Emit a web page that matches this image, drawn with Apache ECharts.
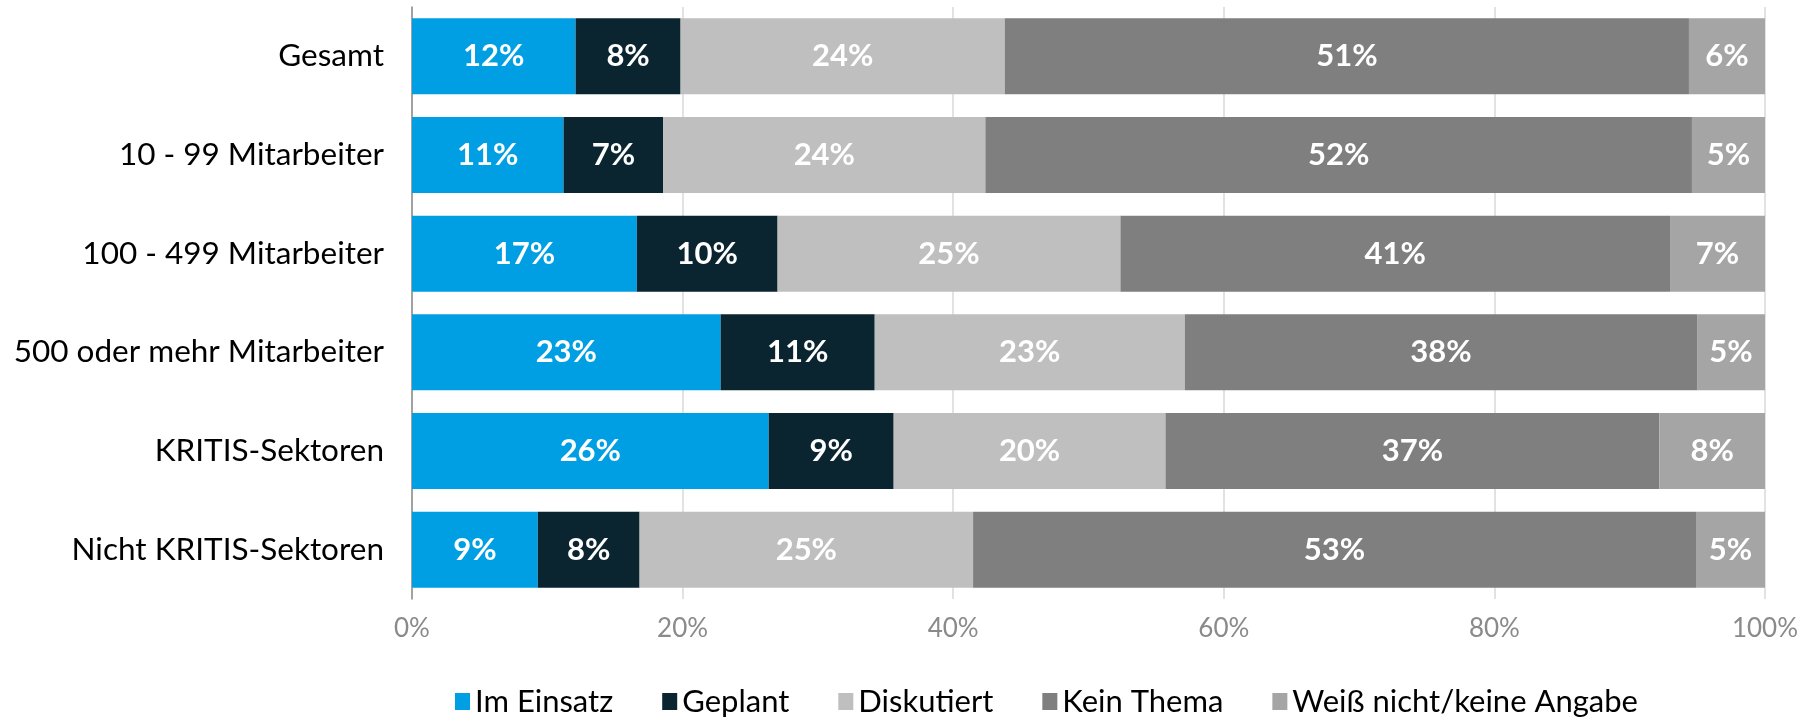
<!DOCTYPE html>
<html>
<head>
<meta charset="utf-8">
<script src="https://cdn.jsdelivr.net/npm/echarts@6/dist/echarts.min.js"></script>
<style>
html, body { margin: 0; padding: 0; background: #fff; }
#chart { width: 1817px; height: 718px; }
</style>
</head>
<body>
<div id="chart"></div>
<script>
// Kategorien (von oben nach unten)
var categories = ['Gesamt', '10 - 99 Mitarbeiter', '100 - 499 Mitarbeiter', '500 oder mehr Mitarbeiter', 'KRITIS-Sektoren', 'Nicht KRITIS-Sektoren']
var seriesNames = ['Im Einsatz', 'Geplant', 'Diskutiert', 'Kein Thema', 'Weiß nicht/keine Angabe']
// Anteile in %
var imEinsatz = [12.09, 11.2, 16.62, 22.81, 26.36, 9.3]
var geplant = [7.76, 7.37, 10.4, 11.39, 9.24, 7.52]
var diskutiert = [23.96, 23.81, 25.34, 22.92, 20.09, 24.65]
var keinThema = [50.57, 52.22, 40.62, 37.86, 36.5, 53.43]
var weissNicht = [5.62, 5.4, 7.02, 5.02, 7.81, 5.1]
var xTicks = [0, 20, 40, 60, 80, 100]

var colors = ['#009fe3', '#0a2530', '#bfbfbf', '#7f7f7f', '#a5a5a5']
var font = 'Lato'

var myChart = echarts.init(document.getElementById('chart'))

var series = [imEinsatz, geplant, diskutiert, keinThema, weissNicht].map(function (data, i) {
	return {
		name: seriesNames[i],
		type: 'bar',
		stack: 'total',
		barCategoryGap: '23%',
		data: data,
		itemStyle: { color: colors[i] },
		label: {
			show: true,
			position: 'inside',
			color: '#fff',
			fontFamily: font,
			fontWeight: 'bold',
			fontSize: 31,
			formatter: function (p) { return Math.round(p.value) + '%' }
		}
	}
})

myChart.setOption({
	animation: false,
	textStyle: { fontFamily: font },
	grid: { left: 412, right: 52, top: 7, bottom: 119, containLabel: false },
	legend: {
		data: seriesNames,
		left: 450,
		top: 681,
		icon: 'rect',
		itemWidth: 15,
		itemHeight: 17,
		itemGap: 49,
		textStyle: { color: '#000', fontSize: 31, fontFamily: font }
	},
	xAxis: {
		type: 'value',
		min: xTicks[0],
		max: xTicks[xTicks.length - 1],
		interval: xTicks[1] - xTicks[0],
		axisLine: { show: false },
		axisTick: { show: false },
		splitLine: { lineStyle: { color: '#d9d9d9', width: 1.5 } },
		axisLabel: {
			color: '#8a8a8a',
			fontSize: 26,
			fontFamily: font,
			margin: 17,
			formatter: '{value}%'
		}
	},
	yAxis: {
		type: 'category',
		inverse: true,
		data: categories,
		axisLine: { lineStyle: { color: '#8c8c8c', width: 1.5 } },
		axisTick: { length: 9, lineStyle: { color: '#8c8c8c', width: 1.5 } },
		axisLabel: { color: '#000', fontSize: 31.5, fontFamily: font, margin: 28 }
	},
	series: series
})
</script>
</body>
</html>
